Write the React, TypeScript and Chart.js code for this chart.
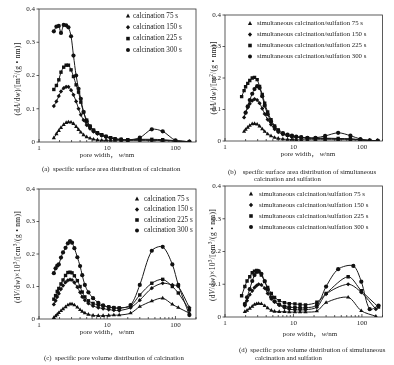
import React, { useEffect, useRef } from 'react';
import { Chart, registerables } from 'chart.js';
Chart.register(...registerables);

const SERIF = "'Liberation Serif', 'Times New Roman', serif";
const INK = '#222';

// ---------- data ----------
const seriesLabelsCalc = ['calcination 75 s', 'calcination 150 s', 'calcination 225 s', 'calcination 300 s'];
const seriesLabelsSim = [
  'simultaneous calcination/sulfation 75 s',
  'simultaneous calcination/sulfation 150 s',
  'simultaneous calcination/sulfation 225 s',
  'simultaneous calcination/sulfation 300 s',
];
const markerStyles = ['triangle', 'rectRot', 'rect', 'circle'];
const xTickLabels = [1, 10, 100];
const yTickStep = 0.1;

// (a) specific surface area, calcination
const widthsA = [1.65, 1.8, 1.95, 2.1, 2.3, 2.5, 2.7, 2.95, 3.2, 3.5, 3.8, 4.1, 4.5, 5.0, 5.6, 6.3, 7.2, 8.3, 9.6, 11.2, 13, 16, 20, 30, 45, 65, 100, 160];
const a75 = [0.012, 0.024, 0.034, 0.043, 0.052, 0.058, 0.06, 0.059, 0.055, 0.046, 0.037, 0.029, 0.021, 0.015, 0.011, 0.008, 0.006, 0.005, 0.005, 0.004, 0.004, 0.004, 0.004, 0.004, 0.004, 0.004, 0.003, 0.001];
const a150 = [0.108, 0.122, 0.138, 0.152, 0.162, 0.166, 0.166, 0.156, 0.142, 0.122, 0.1, 0.082, 0.066, 0.051, 0.04, 0.031, 0.025, 0.019, 0.015, 0.012, 0.009, 0.007, 0.006, 0.007, 0.006, 0.005, 0.003, 0.001];
const a225 = [0.158, 0.17, 0.187, 0.21, 0.225, 0.231, 0.231, 0.217, 0.197, 0.172, 0.15, 0.12, 0.09, 0.066, 0.048, 0.036, 0.028, 0.022, 0.017, 0.013, 0.01, 0.008, 0.007, 0.008, 0.008, 0.007, 0.004, 0.001];
const a300 = [0.333, 0.347, 0.349, 0.328, 0.352, 0.351, 0.345, 0.318, 0.26, 0.2, 0.16, 0.13, 0.09, 0.062, 0.046, 0.034, 0.026, 0.021, 0.016, 0.012, 0.009, 0.007, 0.006, 0.013, 0.038, 0.032, 0.005, 0.001];

// (b) specific surface area, simultaneous calcination/sulfation
const widthsB = [1.75, 1.9, 2.0, 2.15, 2.3, 2.5, 2.7, 2.95, 3.2, 3.5, 3.8, 4.2, 4.7, 5.3, 6.0, 7.0, 8.2, 9.5, 11, 13, 16, 21, 29, 45, 68, 95, 130, 170];
const b75 = [null, 0.03, 0.036, 0.043, 0.049, 0.054, 0.055, 0.053, 0.047, 0.038, 0.03, 0.022, 0.016, 0.011, 0.008, 0.006, 0.005, 0.005, 0.004, 0.004, 0.004, 0.004, 0.004, 0.004, 0.004, 0.003, 0.002, 0.001];
const b150 = [null, 0.075, 0.09, 0.106, 0.118, 0.128, 0.133, 0.13, 0.12, 0.103, 0.086, 0.068, 0.052, 0.038, 0.028, 0.021, 0.017, 0.014, 0.012, 0.01, 0.009, 0.008, 0.008, 0.007, 0.006, 0.004, 0.002, 0.001];
const b225 = [0.141, 0.16, 0.172, 0.183, 0.192, 0.2, 0.202, 0.195, 0.173, 0.148, 0.12, 0.092, 0.068, 0.048, 0.035, 0.024, 0.018, 0.015, 0.013, 0.011, 0.01, 0.009, 0.009, 0.008, 0.007, 0.004, 0.002, 0.001];
const b300 = [null, null, 0.09, 0.11, 0.13, 0.15, 0.165, 0.174, 0.168, 0.142, 0.112, 0.085, 0.062, 0.045, 0.033, 0.025, 0.02, 0.017, 0.014, 0.012, 0.01, 0.01, 0.016, 0.026, 0.017, 0.006, 0.001, 0.001];

// (c) specific pore volume, calcination
const widthsC = [1.65, 1.75, 1.85, 1.95, 2.1, 2.25, 2.45, 2.65, 2.85, 3.05, 3.3, 3.65, 4.0, 4.3, 4.7, 5.3, 6.2, 7.4, 8.7, 10.5, 12.5, 15, 22, 30, 45, 65, 90, 110, 160];
const c75 = [0.004, 0.009, 0.014, 0.019, 0.025, 0.031, 0.037, 0.043, 0.046, 0.046, 0.043, 0.036, 0.028, 0.023, 0.018, 0.014, 0.011, 0.01, 0.01, 0.011, 0.012, 0.012, 0.018, 0.038, 0.055, 0.064, 0.045, 0.035, 0.018];
const c150 = [0.045, 0.056, 0.068, 0.078, 0.092, 0.103, 0.113, 0.119, 0.121, 0.12, 0.112, 0.098, 0.082, 0.068, 0.058, 0.048, 0.04, 0.035, 0.032, 0.029, 0.027, 0.026, 0.035, 0.058, 0.095, 0.11, 0.105, 0.1, 0.035];
const c225 = [0.061, 0.072, 0.085, 0.094, 0.108, 0.12, 0.134, 0.143, 0.144, 0.142, 0.133, 0.118, 0.1, 0.083, 0.068, 0.056, 0.048, 0.043, 0.04, 0.037, 0.035, 0.034, 0.04, 0.074, 0.11, 0.122, 0.1, 0.08, 0.028];
const c300 = [0.141, 0.156, 0.164, 0.168, 0.189, 0.205, 0.219, 0.233, 0.24, 0.235, 0.218, 0.19, 0.163, 0.135, 0.105, 0.082, 0.064, 0.05, 0.042, 0.037, 0.034, 0.033, 0.043, 0.105, 0.21, 0.222, 0.168, 0.105, 0.012];

// (d) specific pore volume, simultaneous calcination/sulfation
const widthsD = [1.75, 1.95, 2.1, 2.3, 2.5, 2.7, 2.9, 3.1, 3.4, 3.8, 4.2, 4.75, 5.3, 6.2, 7.4, 8.7, 10.5, 12.5, 15, 22, 30, 45, 63, 75, 98, 130, 160, 175];
const d75 = [null, 0.016, 0.02, 0.026, 0.032, 0.038, 0.04, 0.041, 0.04, 0.034, 0.027, 0.02, 0.017, 0.016, 0.016, 0.015, 0.015, 0.015, 0.015, 0.018, 0.044, null, 0.06, null, 0.019, null, 0.002, null];
const d150 = [null, 0.035, 0.05, 0.068, 0.08, 0.09, 0.096, 0.1, 0.098, 0.088, 0.072, 0.055, 0.046, 0.036, 0.028, 0.024, 0.022, 0.022, 0.022, 0.03, 0.07, null, 0.1, null, 0.075, null, 0.024, null];
const d225 = [0.065, 0.093, 0.11, 0.123, 0.135, 0.14, 0.142, 0.138, 0.128, 0.108, 0.09, 0.072, 0.06, 0.05, 0.044, 0.041, 0.04, 0.038, 0.037, 0.045, 0.072, null, 0.123, null, 0.08, null, null, 0.03];
const d300 = [null, 0.04, 0.06, 0.085, 0.11, 0.128, 0.138, 0.14, 0.132, 0.11, 0.085, 0.06, 0.048, 0.038, 0.032, 0.03, 0.029, 0.028, 0.028, 0.036, 0.093, 0.146, null, 0.156, 0.108, 0.024, null, 0.035];

// ---------- helpers ----------
function toPoints(ws: number[], vs: (number | null)[]) {
  return ws.map((w, i) => ({ x: w, y: vs[i] })).filter((p) => p.y !== null && p.y !== undefined);
}

function drawMarker(ctx: CanvasRenderingContext2D, style: string, x: number, y: number, r: number) {
  ctx.beginPath();
  if (style === 'triangle') {
    ctx.moveTo(x, y - r * 1.15);
    ctx.lineTo(x + r, y + r * 0.75);
    ctx.lineTo(x - r, y + r * 0.75);
    ctx.closePath();
  } else if (style === 'rectRot') {
    ctx.moveTo(x, y - r * 1.1);
    ctx.lineTo(x + r * 1.0, y);
    ctx.lineTo(x, y + r * 1.1);
    ctx.lineTo(x - r * 1.0, y);
    ctx.closePath();
  } else if (style === 'rect') {
    ctx.rect(x - r * 0.85, y - r * 0.85, r * 1.7, r * 1.7);
  } else {
    ctx.arc(x, y, r * 0.95, 0, Math.PI * 2);
  }
  ctx.fill();
}

const framePlugin = {
  id: 'frame',
  beforeDatasetsDraw(chart: any) {
    const { ctx, chartArea: a, scales } = chart;
    ctx.save();
    ctx.strokeStyle = '#333';
    ctx.lineWidth = 0.8;
    ctx.strokeRect(a.left, a.top, a.right - a.left, a.bottom - a.top);
    const xs = scales.x;
    ctx.beginPath();
    for (let dec = 1; dec <= 100; dec *= 10) {
      for (let m = 1; m <= 9; m++) {
        const v = m * dec;
        if (v > 200) break;
        const px = xs.getPixelForValue(v);
        if (px < a.left - 0.5 || px > a.right + 0.5) continue;
        const len = m === 1 ? 3 : 2;
        ctx.moveTo(px, a.bottom);
        ctx.lineTo(px, a.bottom - len);
      }
    }
    const ys = scales.y;
    for (let k = 0; k <= 4; k++) {
      const py = ys.getPixelForValue(k * yTickStep);
      ctx.moveTo(a.left, py);
      ctx.lineTo(a.left - 2.5, py);
    }
    ctx.stroke();
    ctx.restore();
    return true;
  },
};

const legendPlugin = {
  id: 'panelLegend',
  afterDraw(chart: any, _args: any, opts: any) {
    if (!opts || opts.mx === undefined) return;
    const { ctx } = chart;
    ctx.save();
    ctx.font = `${opts.size}px ${SERIF}`;
    ctx.textBaseline = 'middle';
    ctx.textAlign = 'left';
    chart.data.datasets.forEach((ds: any, i: number) => {
      const y = opts.y0 + i * opts.dy;
      ctx.fillStyle = '#111';
      drawMarker(ctx, ds.pointStyle, opts.mx, y, 2.1);
      ctx.fillStyle = INK;
      ctx.fillText(ds.label, opts.tx, y);
    });
    ctx.restore();
  },
};

type PanelProps = {
  box: { x: number; y: number; w: number; h: number };
  area: { left: number; top: number; right: number; bottom: number };
  widths: number[];
  series: (number | null)[][];
  labels: string[];
  legend: { mx: number; tx: number; y0: number; dy: number; size: number };
};

function Panel({ box, area, widths, series, labels, legend }: PanelProps) {
  const ref = useRef<HTMLCanvasElement>(null);
  useEffect(() => {
    const cvs = ref.current!;
    const datasets = series.map((vals, i) => ({
      label: labels[i],
      data: toPoints(widths, vals),
      showLine: true,
      borderColor: '#1a1a1a',
      backgroundColor: '#111',
      borderWidth: 1,
      tension: 0.3,
      pointStyle: markerStyles[i],
      pointRadius: markerStyles[i] === 'triangle' ? 2.4 : markerStyles[i] === 'rect' ? 2.4 : 2.1,
      pointBorderWidth: 0,
      pointBorderColor: '#111',
      pointBackgroundColor: '#111',
      fill: false,
    }));
    const chart = new Chart(cvs, {
      type: 'line',
      data: { datasets },
      options: {
        animation: false,
        responsive: false,
        devicePixelRatio: 1,
        layout: {
          padding: { left: 0, top: area.top - box.y, right: box.x + box.w - area.right, bottom: 0 },
        },
        plugins: {
          legend: { display: false },
          tooltip: { enabled: false },
          panelLegend: {
            mx: legend.mx - box.x,
            tx: legend.tx - box.x,
            y0: legend.y0 - box.y,
            dy: legend.dy,
            size: legend.size,
          },
        } as any,
        scales: {
          x: {
            type: 'logarithmic',
            min: 1,
            max: 200,
            grid: { display: false, drawTicks: false },
            border: { display: false },
            afterFit: (s: any) => {
              s.height = box.y + box.h - area.bottom;
            },
            ticks: {
              autoSkip: false,
              maxRotation: 0,
              minRotation: 0,
              padding: 2,
              color: INK,
              font: { family: SERIF, size: 7 },
              callback: (v: any) => {
                const n = Number(v);
                return xTickLabels.some((t) => Math.abs(t - n) < 1e-6) ? String(Math.round(n)) : '';
              },
            },
          },
          y: {
            type: 'linear',
            min: 0,
            max: 0.4,
            grid: { display: false, drawTicks: false },
            border: { display: false },
            afterFit: (s: any) => {
              s.width = area.left - box.x;
            },
            ticks: {
              stepSize: yTickStep,
              padding: 4,
              color: INK,
              font: { family: SERIF, size: 7 },
            },
          },
        },
      },
      plugins: [framePlugin, legendPlugin],
    });
    return () => chart.destroy();
  }, []);
  return (
    <canvas
      ref={ref}
      width={box.w}
      height={box.h}
      style={{ position: 'absolute', left: box.x, top: box.y, width: box.w, height: box.h }}
    />
  );
}

const txt: React.CSSProperties = {
  position: 'absolute',
  fontFamily: SERIF,
  color: INK,
  whiteSpace: 'nowrap',
  lineHeight: 1,
};

function Text({ x, y, size = 6.8, children, center = false }: any) {
  return (
    <div
      style={{
        ...txt,
        left: x,
        top: y,
        fontSize: size,
        transform: center ? 'translate(-50%, -50%)' : 'translate(0, -50%)',
      }}
    >
      {children}
    </div>
  );
}

function VText({ x, y, size = 7.4, children }: any) {
  return (
    <div
      style={{
        ...txt,
        left: x,
        top: y,
        fontSize: size,
        letterSpacing: 0.35,
        transform: 'translate(-50%, -50%) rotate(-90deg)',
      }}
    >
      {children}
    </div>
  );
}

const XTitle = () => (
  <>
    pore width<span style={{ fontFamily: "'Noto Sans CJK SC'" }}>，</span> <i>w</i>/nm
  </>
);
const supStyle: React.CSSProperties = { fontSize: '0.7em', verticalAlign: 'super', lineHeight: 0 };
const YTitleA = () => (
  <>
    (d<i>A</i>/d<i>w</i>)/[m<span style={supStyle}>2</span>/(g • nm)]
  </>
);
const YTitleV = () => (
  <>
    (d<i>V</i>/d<i>w</i>)×10<span style={supStyle}>3</span>/[cm<span style={supStyle}>3</span>/(g • nm)]
  </>
);

export default function App() {
  return (
    <div
      style={{
        position: 'fixed',
        left: 0,
        top: 0,
        width: 394,
        height: 365,
        background: '#fff',
        overflow: 'hidden',
      }}
    >
      <Panel
        box={{ x: 0, y: 0, w: 200, h: 160 }}
        area={{ left: 39, top: 9, right: 196.5, bottom: 142 }}
        widths={widthsA}
        series={[a75, a150, a225, a300]}
        labels={seriesLabelsCalc}
        legend={{ mx: 128, tx: 133, y0: 16, dy: 11.3, size: 7.2 }}
      />
      <Panel
        box={{ x: 200, y: 0, w: 194, h: 160 }}
        area={{ left: 225, top: 15, right: 382.5, bottom: 141 }}
        widths={widthsB}
        series={[b75, b150, b225, b300]}
        labels={seriesLabelsSim}
        legend={{ mx: 250, tx: 257, y0: 23.5, dy: 11, size: 6.8 }}
      />
      <Panel
        box={{ x: 0, y: 175, w: 200, h: 165 }}
        area={{ left: 39, top: 189, right: 196.5, bottom: 319 }}
        widths={widthsC}
        series={[c75, c150, c225, c300]}
        labels={seriesLabelsCalc}
        legend={{ mx: 137, tx: 144, y0: 199, dy: 10.5, size: 7.2 }}
      />
      <Panel
        box={{ x: 200, y: 175, w: 194, h: 165 }}
        area={{ left: 225, top: 186, right: 382.5, bottom: 317 }}
        widths={widthsD}
        series={[d75, d150, d225, d300]}
        labels={seriesLabelsSim}
        legend={{ mx: 251, tx: 259, y0: 194, dy: 11, size: 6.8 }}
      />

      <Text x={107} y={155} center size={7}>
        <XTitle />
      </Text>
      <Text x={308} y={154} center size={7}>
        <XTitle />
      </Text>
      <Text x={107} y={332} center size={7}>
        <XTitle />
      </Text>
      <Text x={310} y={334} center size={7}>
        <XTitle />
      </Text>

      <VText x={18} y={79}>
        <YTitleA />
      </VText>
      <VText x={214} y={77.5}>
        <YTitleA />
      </VText>
      <VText x={18} y={257}>
        <YTitleV />
      </VText>
      <VText x={213} y={255}>
        <YTitleV />
      </VText>

      <Text x={42} y={169}>
        (a)&nbsp;&nbsp;specific surface area distribution of calcination
      </Text>
      <Text x={228} y={172}>
        (b)&nbsp;&nbsp;&nbsp;&nbsp;specific surface area distribution of simultaneous
      </Text>
      <Text x={254} y={178.5}>
        calcination and sulfation
      </Text>
      <Text x={44} y={358}>
        (c)&nbsp;&nbsp;specific pore volume distribution of calcination
      </Text>
      <Text x={239} y={350}>
        (d)&nbsp;&nbsp;specific pore volume distribution of simultaneous
      </Text>
      <Text x={255} y={357.5}>
        calcination and sulfation
      </Text>
    </div>
  );
}
